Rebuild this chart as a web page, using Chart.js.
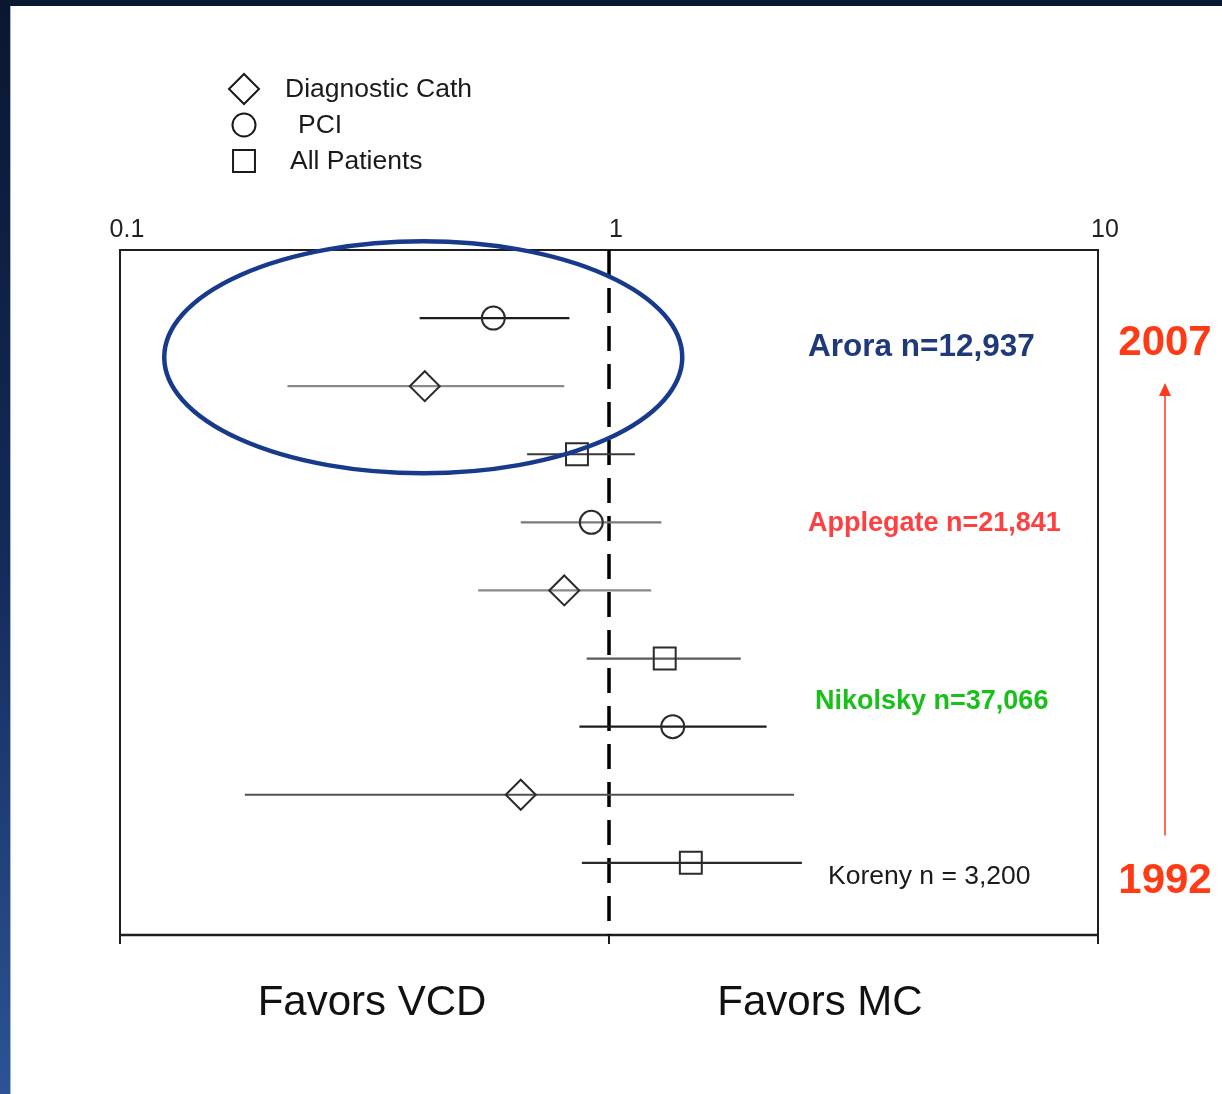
<!DOCTYPE html>
<html>
<head>
<meta charset="utf-8">
<title>Odds ratio forest plot</title>
<script src="https://cdn.jsdelivr.net/npm/chart.js@4.4.1/dist/chart.umd.min.js"></script>
<style>
  html, body { margin: 0; padding: 0; background: #fff; }
  canvas { display: block; }
</style>
</head>
<body>
<canvas id="forest" width="1222" height="1094"></canvas>
<script>
// Estimates, one per row (row 1 is the top of the plot)
const rows = [1, 2, 3, 4, 5, 6, 7, 8, 9];
const groups = ['PCI', 'Diagnostic Cath', 'All Patients',
                'PCI', 'Diagnostic Cath', 'All Patients',
                'PCI', 'Diagnostic Cath', 'All Patients'];
const oddsRatio = [0.58, 0.42, 0.86, 0.92, 0.81, 1.30, 1.35, 0.66, 1.47];
const ciLow     = [0.41, 0.22, 0.68, 0.66, 0.54, 0.90, 0.87, 0.18, 0.88];
const ciHigh    = [0.83, 0.81, 1.13, 1.28, 1.22, 1.86, 2.10, 2.39, 2.48];

// Legend order and labels
const groupNames = ['Diagnostic Cath', 'PCI', 'All Patients'];
const legendLabels = ['Diagnostic Cath', 'PCI', 'All Patients'];

// Study annotations and the row they sit beside
const studyNames = ['Arora n=12,937', 'Applegate n=21,841', 'Nikolsky n=37,066', 'Koreny n = 3,200'];
const studyRows  = [1.42, 4.0, 6.61, 9.19];

// Axis tick values
const tickValues = [0.1, 1, 10];
const tickLabels = ['0.1', '1', '10'];

// Year range shown by the timeline arrow
const yearLabels = ['2007', '1992'];

// ---- styling (kept apart from the data) ----
const FONT = '"Liberation Sans", Arial, Helvetica, sans-serif';
const shapeFor = { 'Diagnostic Cath': 'rectRot', 'PCI': 'circle', 'All Patients': 'rect' };
const radiusFor = { 'Diagnostic Cath': 15, 'PCI': 11.5, 'All Patients': 15.5 };
const barColors = ['#1c1c1c', '#8a8a8a', '#3a3a3a', '#7a7a7a', '#8a8a8a', '#5a5a5a', '#1c1c1c', '#505050', '#2a2a2a'];
const studyStyles = [
  { color: '#1f3a7a', font: 'bold 31.5px ' + FONT, x: 808 },
  { color: '#ff4040', font: 'bold 27px ' + FONT, x: 808 },
  { color: '#19c019', font: 'bold 27px ' + FONT, x: 815 },
  { color: '#1a1a1a', font: '26.5px ' + FONT, x: 828 }
];

const datasets = groupNames.map(function (g) {
  const pts = [];
  rows.forEach(function (r, i) {
    if (groups[i] === g) pts.push({ x: oddsRatio[i], y: r });
  });
  return {
    label: g,
    data: pts,
    pointStyle: shapeFor[g],
    pointRadius: radiusFor[g],
    pointHoverRadius: radiusFor[g],
    pointBorderWidth: 2,
    pointBorderColor: '#2b2b2b',
    pointBackgroundColor: 'rgba(0,0,0,0)',
    showLine: false
  };
});

const forestPlugin = {
  id: 'forestDecor',
  beforeDraw(chart) {
    const ctx = chart.ctx;
    const w = chart.width, h = chart.height;
    ctx.save();
    ctx.fillStyle = '#ffffff';
    ctx.fillRect(0, 0, w, h);
    const g = ctx.createLinearGradient(0, 0, 0, h);
    g.addColorStop(0, '#0a1730');
    g.addColorStop(0.5, '#142a58');
    g.addColorStop(1, '#2c5395');
    ctx.fillStyle = g;
    ctx.fillRect(0, 0, 10, h);
    ctx.fillStyle = '#9fb4d8';
    ctx.fillRect(10, 0, 1, h);
    ctx.fillStyle = '#0a1730';
    ctx.fillRect(0, 0, w, 6);
    ctx.restore();
  },
  beforeDatasetsDraw(chart) {
    const ctx = chart.ctx;
    const xs = chart.scales.x, ys = chart.scales.y;
    const a = chart.chartArea;
    ctx.save();

    // frame
    ctx.strokeStyle = '#1e1e1e';
    ctx.lineWidth = 2;
    ctx.beginPath();
    ctx.moveTo(a.left, a.bottom);
    ctx.lineTo(a.left, a.top);
    ctx.lineTo(a.right, a.top);
    ctx.lineTo(a.right, a.bottom);
    ctx.stroke();
    ctx.lineWidth = 2.5;
    ctx.beginPath();
    ctx.moveTo(a.left - 1, a.bottom);
    ctx.lineTo(a.right + 1, a.bottom);
    ctx.stroke();

    // bottom tick marks and top tick labels
    ctx.lineWidth = 2;
    ctx.fillStyle = '#222';
    ctx.font = '25px ' + FONT;
    ctx.textAlign = 'center';
    ctx.textBaseline = 'alphabetic';
    tickValues.forEach(function (v, i) {
      const px = xs.getPixelForValue(v);
      ctx.beginPath();
      ctx.moveTo(px, a.bottom);
      ctx.lineTo(px, a.bottom + 9);
      ctx.stroke();
      ctx.fillText(tickLabels[i], px + 7, a.top - 13);
    });

    // line of no effect
    const x1 = xs.getPixelForValue(1);
    ctx.strokeStyle = '#000';
    ctx.lineWidth = 3.5;
    ctx.setLineDash([25, 13]);
    ctx.beginPath();
    ctx.moveTo(x1, a.top);
    ctx.lineTo(x1, a.bottom);
    ctx.stroke();
    ctx.setLineDash([]);

    // confidence intervals
    ctx.lineWidth = 2.2;
    rows.forEach(function (r, i) {
      const py = ys.getPixelForValue(r);
      ctx.strokeStyle = barColors[i];
      ctx.beginPath();
      ctx.moveTo(xs.getPixelForValue(ciLow[i]), py);
      ctx.lineTo(xs.getPixelForValue(ciHigh[i]), py);
      ctx.stroke();
    });
    ctx.restore();
  },
  afterDatasetsDraw(chart) {
    const ctx = chart.ctx;
    const xs = chart.scales.x, ys = chart.scales.y;
    const a = chart.chartArea;
    ctx.save();

    // highlight ring around the two most recent estimates
    const cx = xs.getPixelForValue(0.417);
    const cy = ys.getPixelForValue(1.575);
    ctx.strokeStyle = '#173a8c';
    ctx.lineWidth = 4.5;
    ctx.beginPath();
    ctx.ellipse(cx, cy, 259, 116, 0, 0, Math.PI * 2);
    ctx.stroke();

    // study annotations
    ctx.textAlign = 'left';
    ctx.textBaseline = 'middle';
    studyNames.forEach(function (s, i) {
      const st = studyStyles[i];
      ctx.fillStyle = st.color;
      ctx.font = st.font;
      ctx.fillText(s, st.x, ys.getPixelForValue(studyRows[i]) + 1);
    });

    // timeline arrow
    const ax = a.right + 67;
    const tip = ys.getPixelForValue(1.953);
    ctx.strokeStyle = '#ff6a5a';
    ctx.lineWidth = 2;
    ctx.beginPath();
    ctx.moveTo(ax, ys.getPixelForValue(8.6));
    ctx.lineTo(ax, tip + 10);
    ctx.stroke();
    ctx.fillStyle = '#ff3b1f';
    ctx.beginPath();
    ctx.moveTo(ax, tip);
    ctx.lineTo(ax - 6, tip + 13);
    ctx.lineTo(ax + 6, tip + 13);
    ctx.closePath();
    ctx.fill();

    ctx.fillStyle = '#ff3a14';
    ctx.font = 'bold 42px ' + FONT;
    ctx.textAlign = 'center';
    ctx.textBaseline = 'alphabetic';
    ctx.fillText(yearLabels[0], ax, ys.getPixelForValue(1.0) + 37);
    ctx.fillText(yearLabels[1], ax, ys.getPixelForValue(9.0) + 30);

    // side captions under the axis
    ctx.fillStyle = '#111';
    ctx.font = '42px ' + FONT;
    ctx.fillText('Favors VCD', 372, a.bottom + 80);
    ctx.fillText('Favors MC', 820, a.bottom + 80);

    // legend
    const lx = 244;
    const ly = [89, 125, 161];
    const textX = [285, 298, 290];
    ctx.font = '26.5px ' + FONT;
    ctx.textAlign = 'left';
    ctx.textBaseline = 'middle';
    groupNames.forEach(function (g, i) {
      ctx.strokeStyle = '#1a1a1a';
      ctx.fillStyle = 'rgba(0,0,0,0)';
      ctx.lineWidth = 2;
      Chart.helpers.drawPoint(ctx, { pointStyle: shapeFor[g], radius: radiusFor[g], borderWidth: 2, rotation: 0 }, lx, ly[i]);
      ctx.fillStyle = '#1a1a1a';
      ctx.fillText(legendLabels[i], textX[i], ly[i] + 1);
    });

    ctx.restore();
  }
};

new Chart(document.getElementById('forest'), {
  type: 'scatter',
  data: { datasets: datasets },
  options: {
    responsive: false,
    animation: false,
    devicePixelRatio: 1,
    layout: { padding: { left: 120, right: 124, top: 250, bottom: 159 } },
    plugins: { legend: { display: false }, tooltip: { enabled: false } },
    events: [],
    scales: {
      x: { type: 'logarithmic', min: 0.1, max: 10, display: false },
      y: { type: 'linear', min: 0, max: 10.06, reverse: true, display: false }
    }
  },
  plugins: [forestPlugin]
});
</script>
</body>
</html>
